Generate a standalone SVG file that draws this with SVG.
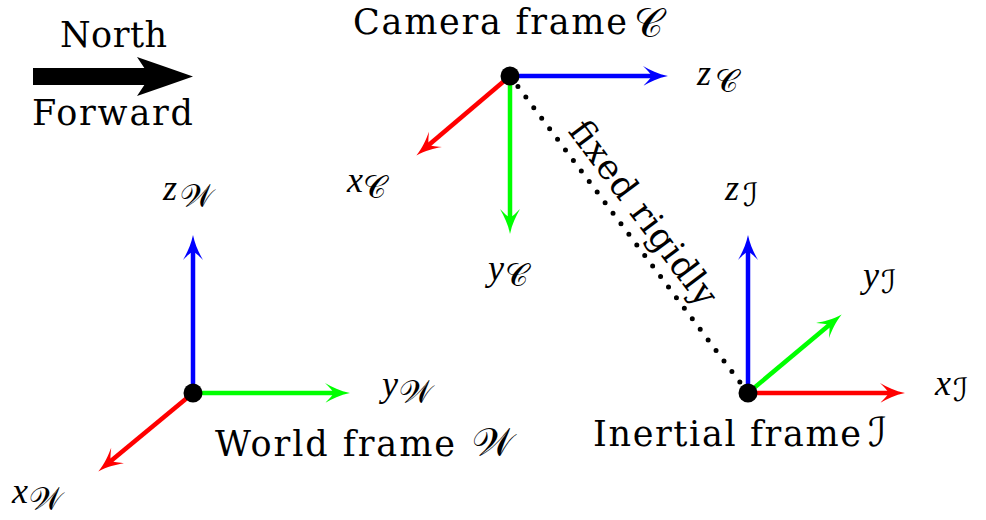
<svg xmlns="http://www.w3.org/2000/svg" width="986" height="520" viewBox="0 0 986 520">
<style>
.t{font-family:"DejaVu Serif","Liberation Serif",serif;font-size:35px;fill:#000}
.m{font-family:"Liberation Serif","DejaVu Serif",serif;font-style:italic;font-size:36px;fill:#000}
.s{font-family:"DejaVu Sans","DejaVu Serif","Noto Sans",serif;font-size:32px;fill:#000}
.S{font-family:"DejaVu Sans","DejaVu Serif","Noto Sans",serif;font-size:40px;fill:#000}
.ax{stroke-width:4.5;fill:none}
.r{stroke:#ff0000}.g{stroke:#00ff00}.b{stroke:#0000ff}
</style>
<defs>
<marker id="hr" markerUnits="userSpaceOnUse" markerWidth="40" markerHeight="30" viewBox="-30 -15 40 30" refX="0" refY="0" orient="auto" overflow="visible">
<path d="M10,0 C0,2 -8,6 -15,10 C-9,4 -7,2 -7,0 C-7,-2 -9,-4 -15,-10 C-8,-6 0,-2 10,0Z" fill="#ff0000"/>
</marker>
<marker id="hg" markerUnits="userSpaceOnUse" markerWidth="40" markerHeight="30" viewBox="-30 -15 40 30" refX="0" refY="0" orient="auto" overflow="visible">
<path d="M10,0 C0,2 -8,6 -15,10 C-9,4 -7,2 -7,0 C-7,-2 -9,-4 -15,-10 C-8,-6 0,-2 10,0Z" fill="#00ff00"/>
</marker>
<marker id="hb" markerUnits="userSpaceOnUse" markerWidth="40" markerHeight="30" viewBox="-30 -15 40 30" refX="0" refY="0" orient="auto" overflow="visible">
<path d="M10,0 C0,2 -8,6 -15,10 C-9,4 -7,2 -7,0 C-7,-2 -9,-4 -15,-10 C-8,-6 0,-2 10,0Z" fill="#0000ff"/>
</marker>
</defs>

<g id="north">
<rect x="33" y="68" width="118" height="17" fill="#000"/>
<path d="M193,76.5 Q166,67 137,57 L150,76.5 L137,96 Q166,86 193,76.5Z" fill="#000"/>
<text class="t" x="60" y="47" textLength="107">North</text>
<text class="t" x="32" y="125" textLength="161">Forward</text>
</g>

<g id="connectors">
<line x1="510" y1="76" x2="748" y2="393" stroke="#000" stroke-width="5" stroke-linecap="round" stroke-dasharray="0 13.2"/>
<text class="t" transform="translate(634,220) rotate(53.1)" text-anchor="middle" textLength="222">fixed rigidly</text>
</g>

<g id="camera">
<line class="ax b" x1="510" y1="76" x2="658" y2="76" marker-end="url(#hb)"/>
<line class="ax g" x1="510" y1="76" x2="510" y2="224" marker-end="url(#hg)"/>
<line class="ax r" x1="510" y1="76" x2="424" y2="149" marker-end="url(#hr)"/>
<circle cx="510" cy="76" r="9.5" fill="#000"/>
<text class="t" x="353" y="34" textLength="274">Camera frame</text>
<text class="S" x="634" y="37" font-size="36">𝒞</text>
<text class="m" x="697" y="85">z</text><text class="s" x="715" y="92">𝒞</text>
<text class="m" x="347" y="192">x</text><text class="s" x="363" y="198">𝒞</text>
<text class="m" x="488" y="280">y</text><text class="s" x="505" y="286">𝒞</text>
</g>

<g id="world">
<line class="ax b" x1="193" y1="393" x2="193" y2="245" marker-end="url(#hb)"/>
<line class="ax g" x1="193" y1="393" x2="340" y2="393" marker-end="url(#hg)"/>
<line class="ax r" x1="193" y1="393" x2="106" y2="465" marker-end="url(#hr)"/>
<circle cx="193" cy="393" r="9.5" fill="#000"/>
<text class="t" x="215" y="456" textLength="240">World frame</text>
<text class="S" x="472" y="456">𝒲</text>
<text class="m" x="163" y="200">z</text><text class="s" x="180" y="207">𝒲</text>
<text class="m" x="382" y="396">y</text><text class="s" x="399" y="403">𝒲</text>
<text class="m" x="12" y="503">x</text><text class="s" x="29" y="510">𝒲</text>
</g>

<g id="inertial">
<line class="ax b" x1="748" y1="393" x2="748" y2="245" marker-end="url(#hb)"/>
<line class="ax r" x1="748" y1="393" x2="895" y2="393" marker-end="url(#hr)"/>
<line class="ax g" x1="748" y1="393" x2="834" y2="321" marker-end="url(#hg)"/>
<circle cx="748" cy="393" r="9.5" fill="#000"/>
<text class="t" x="593" y="446" textLength="268">Inertial frame</text>
<text class="S" x="868" y="446">ℐ</text>
<text class="m" x="725" y="200">z</text><text class="s" x="743" y="206">ℐ</text>
<text class="m" x="863" y="287">y</text><text class="s" x="881" y="293">ℐ</text>
<text class="m" x="935" y="395">x</text><text class="s" x="953" y="401">ℐ</text>
</g>
</svg>
